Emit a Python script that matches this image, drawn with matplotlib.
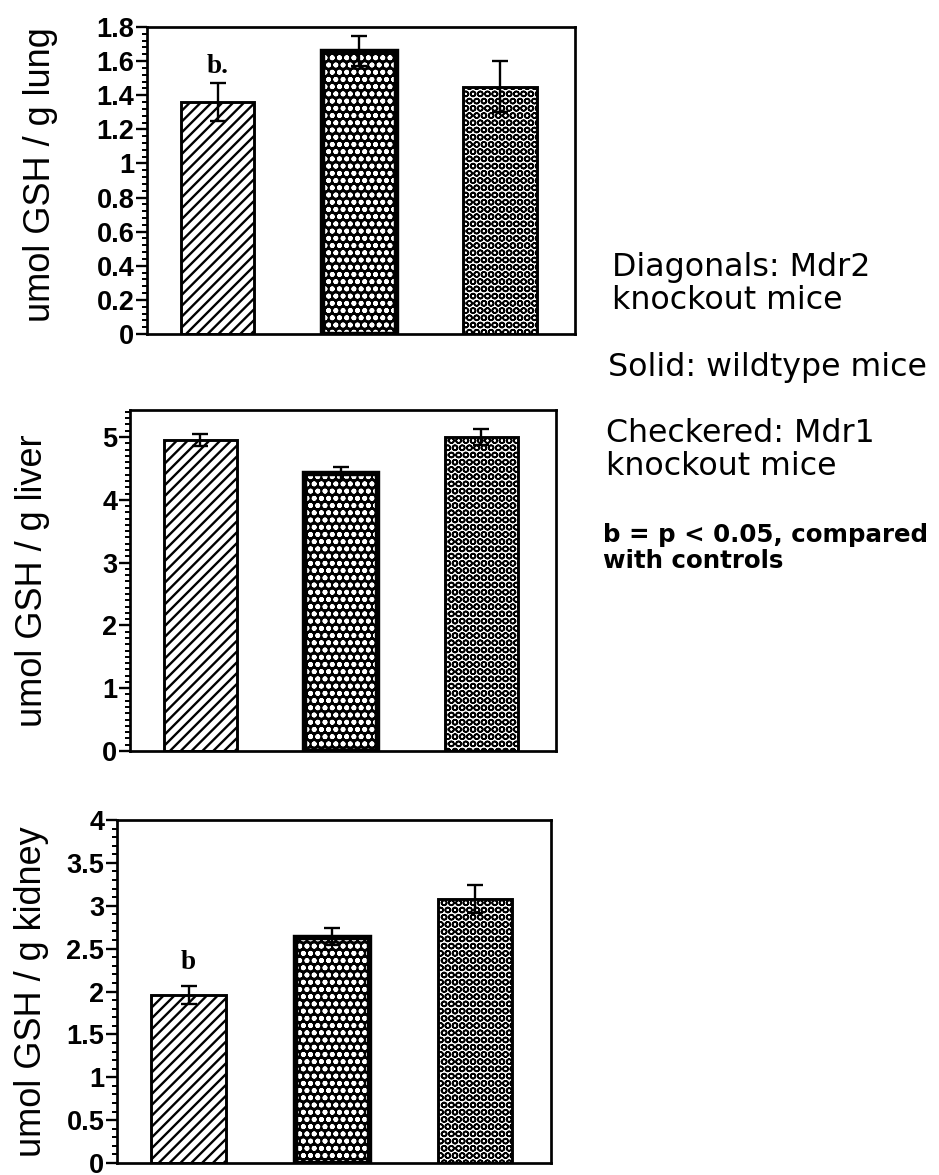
import numpy as np
import matplotlib
matplotlib.use('Agg')
import matplotlib.pyplot as plt
from matplotlib.ticker import MultipleLocator, FuncFormatter

# GSH content per organ, three mouse strains
groups = ['Mdr2 knockout', 'wildtype', 'Mdr1 knockout']
lung_mean = [1.36, 1.66, 1.45]
lung_err = [0.11, 0.09, 0.15]
liver_mean = [4.95, 4.42, 5.00]
liver_err = [0.10, 0.10, 0.12]
kidney_mean = [1.96, 2.64, 3.08]
kidney_err = [0.10, 0.10, 0.16]

DPI = 130
plt.rcParams['hatch.linewidth'] = 1.2

fig = plt.figure(figsize=(939 / DPI, 1175 / DPI), dpi=DPI)

def px_box(left, right, top, bottom):
    return [left / 939, 1 - bottom / 1175, (right - left) / 939, (bottom - top) / 1175]

def fmt(v, _):
    return '%g' % round(v, 2)

def hatch_lw(bars, lw):
    for p in bars:
        if hasattr(p, 'set_hatch_linewidth'):
            p.set_hatch_linewidth(lw)

def panel(box, means, errs, ylim, major, minor, ylabel, label_x, label_y, sig=None):
    ax = fig.add_axes(box)
    x = np.arange(len(means))
    w = 0.52
    # diagonals
    b0 = ax.bar(x[0], means[0], w, facecolor='white', edgecolor='black', hatch='////',
                linewidth=1.6, zorder=2)
    hatch_lw(b0, 1.3)
    # solid: black with white speckles
    b1 = ax.bar(x[1], means[1], w, facecolor='black', edgecolor='white', hatch='ooo',
                linewidth=0, zorder=2)
    hatch_lw(b1, 1.1)
    ax.bar(x[1], means[1], w, fill=False, edgecolor='black', linewidth=3.0, zorder=3)
    # checkered
    b2 = ax.bar(x[2], means[2], w, facecolor='white', edgecolor='black', hatch='OOO',
                linewidth=1.6, zorder=2)
    hatch_lw(b2, 0.9)
    ax.errorbar(x, means, yerr=errs, fmt='none', ecolor='black', elinewidth=1.3,
                capsize=4.5, capthick=1.3, zorder=4)
    if sig is not None:
        ax.text(x[0], sig[0], sig[1], ha='center', va='center', fontsize=15,
                fontweight='bold', family=['Liberation Serif', 'DejaVu Serif'])
    ax.set_xlim(-0.5, 2.53)
    ax.set_ylim(*ylim)
    ax.set_xticks([])
    ax.yaxis.set_major_locator(MultipleLocator(major))
    ax.yaxis.set_minor_locator(MultipleLocator(minor))
    ax.yaxis.set_major_formatter(FuncFormatter(fmt))
    ax.tick_params(axis='y', which='major', direction='out', length=6, width=1.3,
                   labelsize=15, pad=1)
    ax.tick_params(axis='y', which='minor', direction='out', length=3, width=1.1)
    for lab in ax.get_yticklabels():
        lab.set_fontweight('bold')
        lab.set_family(['Liberation Sans', 'DejaVu Sans'])
    for s in ax.spines.values():
        s.set_linewidth(1.5)
    ax.set_ylabel(ylabel, fontsize=20, va='center', family=['Liberation Sans', 'DejaVu Sans'])
    ax.yaxis.set_label_coords(label_x, label_y)
    return ax

panel(px_box(147, 575, 27, 334), lung_mean, lung_err, (0, 1.8), 0.2, 0.04,
      'umol GSH / g lung', -0.249, 0.52, sig=(1.57, 'b.'))
panel(px_box(130, 556, 410, 751), liver_mean, liver_err, (0, 5.43), 1, 0.1,
      'umol GSH / g liver', -0.23, 0.5)
panel(px_box(117, 551, 820, 1163), kidney_mean, kidney_err, (0, 4), 0.5, 0.1,
      'umol GSH / g kidney', -0.198, 0.5, sig=(2.34, 'b'))

# legend notes on the right
notes = [
    (612, 284, 'Diagonals: Mdr2\nknockout mice', 'normal', 17.5),
    (608, 368, 'Solid: wildtype mice', 'normal', 17.5),
    (606, 450, 'Checkered: Mdr1\nknockout mice', 'normal', 17.5),
    (603, 548, 'b = p < 0.05, compared\nwith controls', 'bold', 13.6),
]
for nx, ny, txt, wt, fs in notes:
    fig.text(nx / 939, 1 - ny / 1175, txt, ha='left', va='center', fontsize=fs,
             fontweight=wt, linespacing=1.1, family=['DejaVu Sans'])

fig.savefig('out.png', dpi=DPI)
